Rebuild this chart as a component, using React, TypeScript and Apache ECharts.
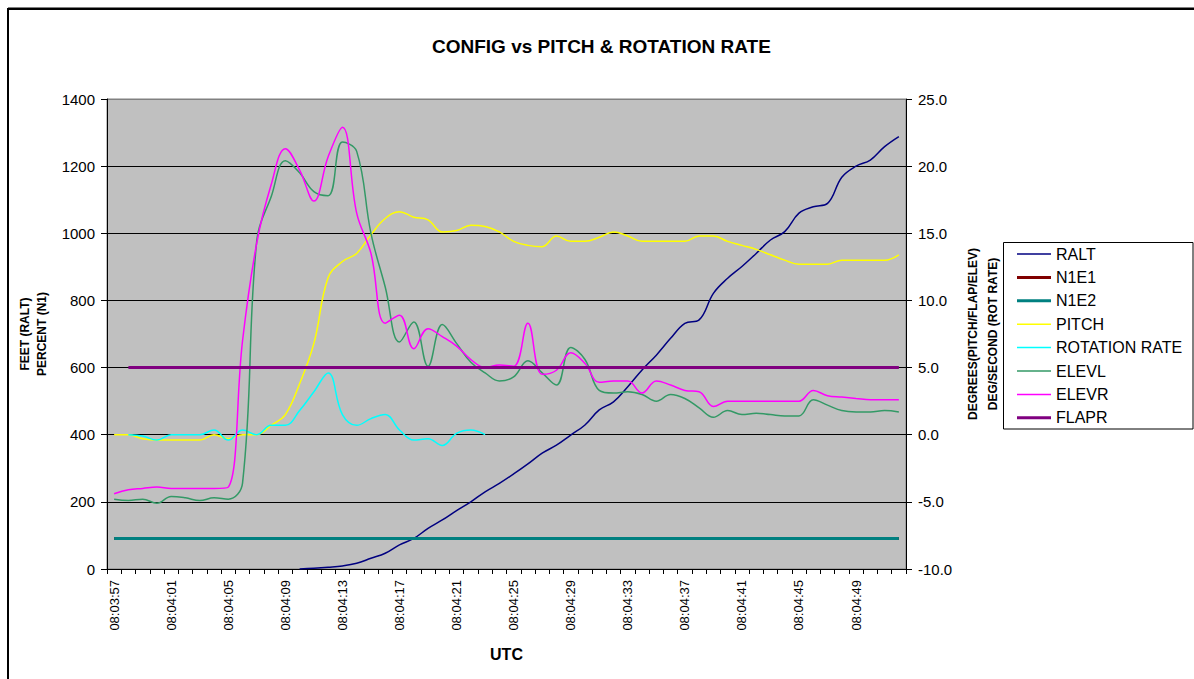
import React, { useEffect, useRef } from "react";
import * as echarts from "echarts";

const times = [
  "08:03:57", "08:03:58", "08:03:59", "08:04:00", "08:04:01", "08:04:02", "08:04:03", "08:04:04",
  "08:04:05", "08:04:06", "08:04:07", "08:04:08", "08:04:09", "08:04:10", "08:04:11", "08:04:12",
  "08:04:13", "08:04:14", "08:04:15", "08:04:16", "08:04:17", "08:04:18", "08:04:19", "08:04:20",
  "08:04:21", "08:04:22", "08:04:23", "08:04:24", "08:04:25", "08:04:26", "08:04:27", "08:04:28",
  "08:04:29", "08:04:30", "08:04:31", "08:04:32", "08:04:33", "08:04:34", "08:04:35", "08:04:36",
  "08:04:37", "08:04:38", "08:04:39", "08:04:40", "08:04:41", "08:04:42", "08:04:43", "08:04:44",
  "08:04:45", "08:04:46", "08:04:47", "08:04:48", "08:04:49", "08:04:50", "08:04:51", "08:04:52",
];

const leftTicks = [0, 200, 400, 600, 800, 1000, 1200, 1400];
const rightTicks = [-10, -5, 0, 5, 10, 15, 20, 25];

const ralt = [
  null, null, null, null, null, null, null, null, null, null, null, null, null,
  0, 2, 5, 9, 17, 32, 47, 72, 91, 121, 146, 174, 200, 230, 255, 283, 313, 345, 369, 399,
  429, 474, 498, 543, 593, 637, 687, 732, 742, 821, 866, 901, 940, 980, 1005, 1060, 1079,
  1089, 1167, 1200, 1218, 1258, 1288,
];

const n1e1 = [
  91, 91, 91, 91, 91, 91, 91, 91, 91, 91, 91, 91, 91, 91, 91, 91, 91, 91, 91, 91, 91, 91, 91, 91,
  91, 91, 91, 91, 91, 91, 91, 91, 91, 91, 91, 91, 91, 91, 91, 91, 91, 91, 91, 91, 91, 91, 91, 91,
  91, 91, 91, 91, 91, 91, 91, 91,
];

const n1e2 = [
  91, 91, 91, 91, 91, 91, 91, 91, 91, 91, 91, 91, 91, 91, 91, 91, 91, 91, 91, 91, 91, 91, 91, 91,
  91, 91, 91, 91, 91, 91, 91, 91, 91, 91, 91, 91, 91, 91, 91, 91, 91, 91, 91, 91, 91, 91, 91, 91,
  91, 91, 91, 91, 91, 91, 91, 91,
];

const pitch = [
  0.0, 0.0, -0.3, -0.4, -0.4, -0.4, -0.4, 0.0, -0.3, 0.0, 0.0, 0.7, 1.5, 3.8, 6.8, 11.7, 12.9,
  13.5, 14.9, 16.1, 16.6, 16.2, 16.0, 15.1, 15.2, 15.6, 15.5, 15.1, 14.4, 14.1, 14.0, 14.8, 14.4,
  14.4, 14.7, 15.1, 14.8, 14.4, 14.4, 14.4, 14.4, 14.8, 14.8, 14.4, 14.1, 13.8, 13.4, 13.0, 12.7,
  12.7, 12.7, 13.0, 13.0, 13.0, 13.0, 13.4,
];

const rotationRate = [
  null, 0.0, -0.1, -0.4, 0.0, 0.0, 0.0, 0.35, -0.4, 0.35, 0.0, 0.7, 0.7, 1.8, 3.2, 4.6, 1.5, 0.7,
  1.2, 1.5, 0.35, -0.4, -0.3, -0.8, 0.1, 0.35, 0.0, null, null, null, null, null, null, null, null,
  null, null, null, null, null, null, null, null, null, null, null, null, null, null, null, null,
  null, null, null, null, null,
];

const elevl = [
  -4.8, -4.9, -4.8, -5.1, -4.6, -4.7, -4.9, -4.7, -4.8, -3.6, 14.5, 17.7, 20.4, 19.5, 18.1, 17.8,
  21.8, 21.1, 15.0, 11.0, 6.9, 8.4, 5.1, 8.2, 6.8, 5.4, 4.6, 4.0, 4.3, 5.5, 4.6, 3.7, 6.5, 5.6,
  3.3, 3.1, 3.2, 3.0, 2.5, 3.0, 2.7, 2.0, 1.3, 1.8, 1.5, 1.6, 1.5, 1.4, 1.4, 2.6, 2.2, 1.8, 1.7,
  1.7, 1.8, 1.7,
];

const elevr = [
  -4.4, -4.1, -4.0, -3.9, -4.0, -4.0, -4.0, -4.0, -3.9, 7.0, 14.3, 18.6, 21.3, 19.7, 17.4, 20.7,
  22.9, 16.5, 13.5, 8.3, 8.9, 6.4, 7.9, 7.3, 6.6, 5.6, 5.0, 5.2, 5.1, 8.3, 4.5, 4.8, 6.1, 5.3, 3.9,
  4.0, 4.0, 3.1, 4.0, 3.7, 3.3, 3.2, 2.1, 2.5, 2.5, 2.5, 2.5, 2.5, 2.5, 3.3, 2.9, 2.8, 2.7, 2.6,
  2.6, 2.6,
];

const flapr = [
  null, 5, 5, 5, 5, 5, 5, 5, 5, 5, 5, 5, 5, 5, 5, 5, 5, 5, 5, 5, 5, 5, 5, 5, 5, 5, 5, 5, 5, 5, 5,
  5, 5, 5, 5, 5, 5, 5, 5, 5, 5, 5, 5, 5, 5, 5, 5, 5, 5, 5, 5, 5, 5, 5, 5, 5,
];

const seriesNames = ["RALT", "N1E1", "N1E2", "PITCH", "ROTATION RATE", "ELEVL", "ELEVR", "FLAPR"];
const seriesColors = ["#000080", "#800000", "#008080", "#FFFF00", "#00FFFF", "#339966", "#FF00FF", "#800080"];
const seriesWidths = [1.5, 3, 3, 1.5, 1.5, 1.5, 1.5, 3];
const seriesAxis = [0, 0, 0, 1, 1, 1, 1, 1];
const seriesData = [ralt, n1e1, n1e2, pitch, rotationRate, elevl, elevr, flapr];

const FONT = "'Liberation Sans', Arial, sans-serif";

export default function App() {
  const ref = useRef<HTMLDivElement>(null);

  useEffect(() => {
    if (!ref.current) return;
    const chart = echarts.init(ref.current, null, { renderer: "svg" });
    const thinIcon = "path://M0,0H34V1.5H0Z";
    const thickIcon = "path://M0,0H34V3H0Z";
    chart.setOption({
      animation: false,
      textStyle: { fontFamily: FONT },
      title: {
        text: "CONFIG vs PITCH & ROTATION RATE",
        left: 432,
        top: 37,
        padding: 0,
        textStyle: { fontFamily: FONT, fontSize: 19, fontWeight: "bold", color: "#000" },
      },
      legend: {
        orient: "vertical",
        left: 1017,
        top: 246,
        padding: 0,
        itemWidth: 34,
        itemHeight: 3,
        itemGap: 7.4,
        selectedMode: false,
        itemStyle: { borderWidth: 0 },
        textStyle: { fontFamily: FONT, fontSize: 16, lineHeight: 16, color: "#000" },
        data: seriesNames.map((n, i) => ({
          name: n,
          icon: seriesWidths[i] > 2 ? thickIcon : thinIcon,
        })),
      },
      graphic: [
        { type: "line", shape: { x1: 8, y1: 8.7, x2: 1194, y2: 8.7 }, style: { stroke: "#000", lineWidth: 2.6 } },
        { type: "line", shape: { x1: 8, y1: 8, x2: 8, y2: 679 }, style: { stroke: "#000", lineWidth: 2 } },
        {
          type: "rect",
          shape: { x: 1003.5, y: 242.5, width: 189.5, height: 186.5 },
          style: { fill: "none", stroke: "#000", lineWidth: 1 },
          z: -1,
        },
      ],
      grid: {
        left: 107,
        top: 99,
        width: 799,
        height: 470,
        show: true,
        backgroundColor: "#C0C0C0",
        borderColor: "#808080",
        borderWidth: 1,
      },
      xAxis: {
        type: "category",
        data: times,
        boundaryGap: true,
        name: "UTC",
        nameLocation: "middle",
        nameGap: 77,
        nameTextStyle: { fontFamily: FONT, fontSize: 16, fontWeight: "bold", color: "#000" },
        axisLine: { show: true, lineStyle: { color: "#000", width: 1 } },
        axisTick: { show: true, interval: 0, length: 5, lineStyle: { color: "#000" } },
        axisLabel: { interval: 3, rotate: 90, margin: 11, fontSize: 13, color: "#000", fontFamily: FONT },
        splitLine: { show: false },
      },
      yAxis: [
        {
          type: "value",
          min: leftTicks[0],
          max: leftTicks[leftTicks.length - 1],
          interval: 200,
          position: "left",
          name: "FEET (RALT)\nPERCENT (N1)",
          nameLocation: "middle",
          nameRotate: 90,
          nameGap: 51,
          nameTextStyle: { fontFamily: FONT, fontSize: 12, fontWeight: "bold", color: "#000", lineHeight: 17 },
          axisLine: { show: true, lineStyle: { color: "#000", width: 1 } },
          axisTick: { show: true, length: 6, lineStyle: { color: "#000" } },
          axisLabel: {
            margin: 12,
            fontSize: 15,
            color: "#000",
            fontFamily: FONT,
            formatter: (v: number) => String(v),
          },
          splitLine: {
            show: true,
            lineStyle: {
              color: ["#000", "#000", "#000", "#000", "#000", "#000", "#000", "#808080"],
              width: 1,
            },
          },
        },
        {
          type: "value",
          min: rightTicks[0],
          max: rightTicks[rightTicks.length - 1],
          interval: 5,
          position: "right",
          name: "DEGREES(PITCH/FLAP/ELEV)\nDEG/SECOND (ROT RATE)",
          nameLocation: "middle",
          nameRotate: 90,
          nameGap: 49,
          nameTextStyle: { fontFamily: FONT, fontSize: 12, fontWeight: "bold", color: "#000", lineHeight: 20 },
          axisLine: { show: true, lineStyle: { color: "#000", width: 1 } },
          axisTick: { show: true, length: 6, lineStyle: { color: "#000" } },
          axisLabel: {
            margin: 12,
            fontSize: 15,
            color: "#000",
            fontFamily: FONT,
            formatter: (v: number) => v.toFixed(1),
          },
          splitLine: { show: false },
        },
      ],
      series: seriesNames.map((n, i) => ({
        name: n,
        type: "line",
        yAxisIndex: seriesAxis[i],
        data: seriesData[i],
        smooth: 0.4,
        symbol: "none",
        showSymbol: false,
        connectNulls: false,
        color: seriesColors[i],
        lineStyle: { color: seriesColors[i], width: seriesWidths[i] },
        emphasis: { disabled: true },
      })),
    });
    return () => chart.dispose();
  }, []);

  return (
    <div
      ref={ref}
      style={{ position: "fixed", left: 0, top: 0, width: 1194, height: 679, background: "#fff" }}
    />
  );
}
